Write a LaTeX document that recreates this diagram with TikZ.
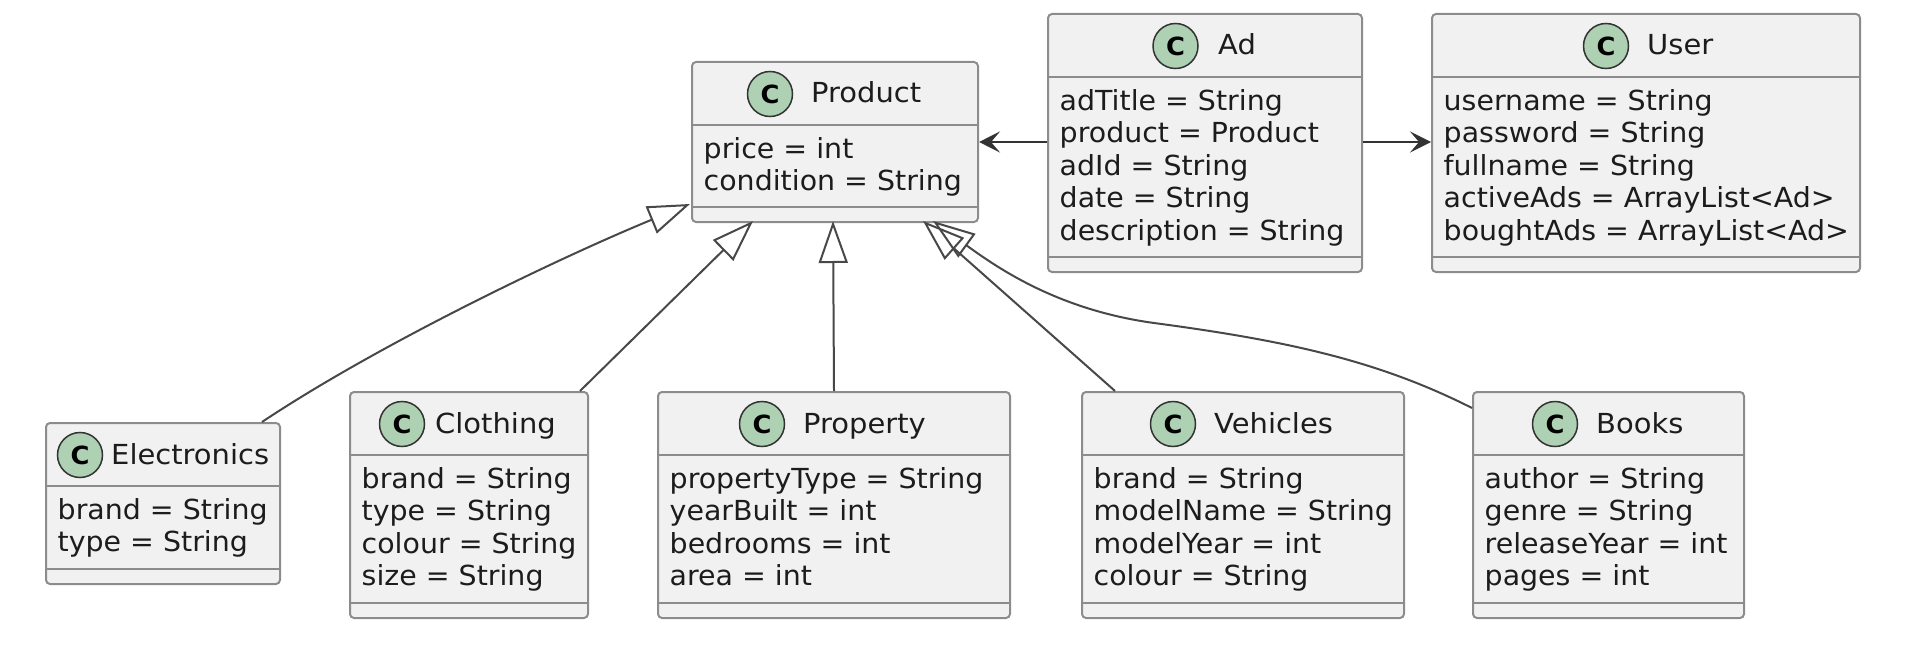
\documentclass[tikz,border=0pt]{standalone}
\usepackage{fontspec}
\setmainfont[FakeStretch=1.03]{DejaVu Sans}
\newfontfamily\titlefont[FakeStretch=1.05]{DejaVu Sans}
\usetikzlibrary{calc, arrows.meta}

\definecolor{boxfill}{HTML}{F1F1F1}
\definecolor{boxline}{HTML}{8C8C8C}
\definecolor{badgefill}{HTML}{ADD1B2}
\definecolor{linkline}{HTML}{333333}
\definecolor{extendline}{HTML}{484848}
\definecolor{inktext}{HTML}{1C1C1C}

\tikzset{
  main node/.style={rectangle,draw=boxline,fill=boxfill,line width=2pt,rounded corners=4pt,inner sep=0pt,anchor=north west},
  sep line/.style={draw=boxline,line width=2pt},
  badge/.style={circle,draw=linkline,fill=badgefill,line width=1.5pt,minimum size=45pt,inner sep=0pt,text=black,font=\fontsize{25}{25}\selectfont\bfseries},
  title text/.style={anchor=base west,inner sep=0pt,text=inktext,font=\titlefont\fontsize{27.6}{32.4}\selectfont},
  attr text/.style={anchor=north west,inner sep=0pt,align=left,text=inktext,font=\fontsize{27.6}{32.5}\selectfont},
  uses/.style={draw=linkline,line width=2pt,-{Stealth[length=21pt,width=21pt,inset=9pt]}},
  extends/.style={draw=extendline,line width=2pt,-{Triangle[open,length=42pt,width=29pt,line width=2pt]}}
}

% name, left, top, width, height, badge x, title x, title, fields
\newcommand{\umlclass}[9]{
  \node[main node,minimum width=#4pt,minimum height=#5pt] (#1) at (#2,#3) {};
  \draw[sep line] ($(#1.north west)+(0,64)$) -- ($(#1.north east)+(0,64)$);
  \draw[sep line] ($(#1.south west)+(0,-16)$) -- ($(#1.south east)+(0,-16)$);
  \node[badge] (#1 badge) at ($(#1.north west)+(#6+1,33)$) {C};
  \node[title text] (#1 title) at ($(#1.north west)+(#7+1,42)$) {#8};
  \node[attr text] (#1 fields) at ($(#1.north west)+(12.5,75)$) {\rule{0pt}{22pt}#9};
}

\begin{document}
\begin{tikzpicture}[x=1pt,y=-1pt]
   \useasboundingbox (1,1) rectangle (1907,651);

   \umlclass{product}{692}{62}{286}{160}{78}{119}{Product}{price = int\\condition = String}
   \umlclass{ad}{1048}{14}{314}{258}{127.5}{170}{Ad}{adTitle = String\\product = Product\\adId = String\\date = String\\description = String}
   \umlclass{user}{1432}{14}{428}{258}{174}{215}{User}{username = String\\password = String\\fullname = String\\activeAds = ArrayList<Ad>\\boughtAds = ArrayList<Ad>}
   \umlclass{electronics}{46}{423}{234}{161}{34}{65}{Electronics}{brand = String\\type = String}
   \umlclass{clothing}{350}{392}{238}{226}{52}{85}{Clothing}{brand = String\\type = String\\colour = String\\size = String}
   \umlclass{property}{658}{392}{352}{226}{104}{145}{Property}{propertyType = String\\yearBuilt = int\\bedrooms = int\\area = int}
   \umlclass{vehicles}{1082}{392}{322}{226}{91}{132}{Vehicles}{brand = String\\modelName = String\\modelYear = int\\colour = String}
   \umlclass{books}{1473}{392}{271}{226}{82}{123}{Books}{author = String\\genre = String\\releaseYear = int\\pages = int}

   \draw[uses] (ad.west |- 0,143) -- (product.east |- 0,143);
   \draw[uses] (ad.east |- 0,143) -- (user.west |- 0,143);

   \draw[extends] ($(electronics.north west)+(217,0)$) .. controls (380,345) and (562,258) .. ($(product.south west)+(-1,-19)$);
   \draw[extends] ($(clothing.north west)+(231,0)$) -- ($(product.south west)+(62,-2)$);
   \draw[extends] (property.north) -- ($(product.south west)+(142,-2)$);
   \draw[extends] ($(vehicles.north west)+(34,0)$) -- ($(product.south west)+(232,-2)$);
   \draw[extends] ($(books.north west)+(0,17)$) .. controls (1380,362) and (1290,342) .. (1155,324) .. controls (1060,311) and (1000,270) .. ($(product.south west)+(242,-2)$);
\end{tikzpicture}
\end{document}
